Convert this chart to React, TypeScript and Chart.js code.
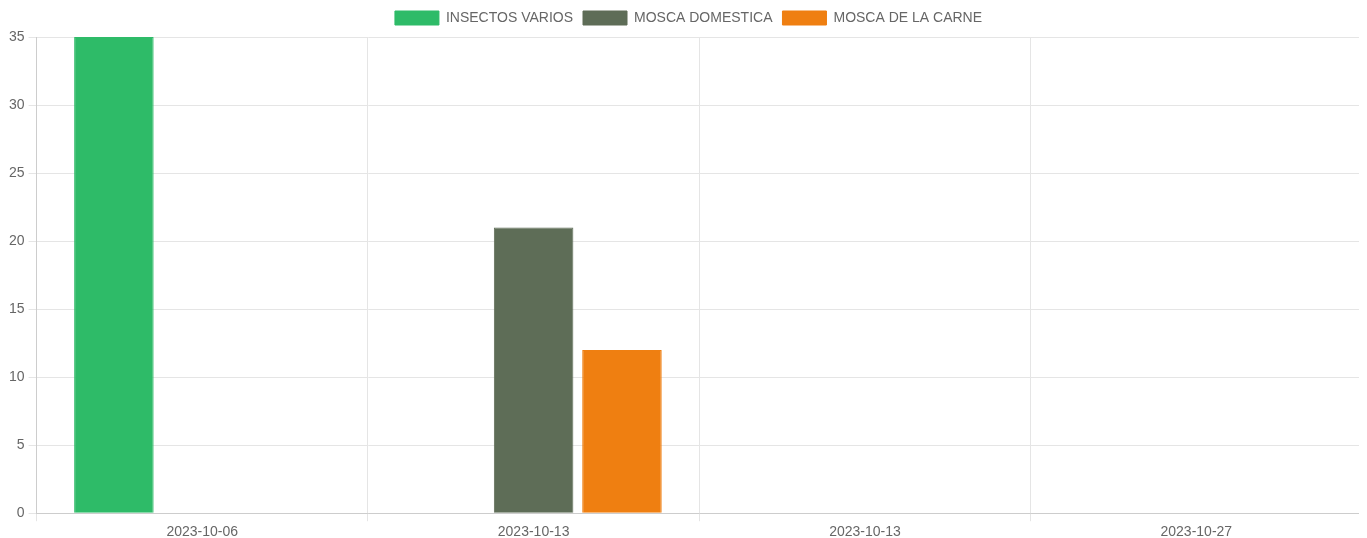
import React, { useEffect, useRef } from "react";
import { Chart, registerables } from "chart.js";

Chart.register(...registerables);

const categories = ["2023-10-06", "2023-10-13", "2023-10-13", "2023-10-27"];
const insectosVarios = [35, 0, 0, 0];
const moscaDomestica = [0, 21, 0, 0];
const moscaCarne = [0, 12, 0, 0];

const legendShift = {
  id: "legendShift",
  afterLayout(chart: any) {
    if (chart.legend) {
      chart.legend.left += 5;
      chart.legend.right += 5;
      chart.legend.top -= 2;
      chart.legend.bottom -= 2;
    }
  },
};

export default function App() {
  const ref = useRef<HTMLCanvasElement | null>(null);
  useEffect(() => {
    if (!ref.current) return;
    Chart.defaults.font.family = "'Liberation Sans', Arial, Helvetica, sans-serif";
    Chart.defaults.font.size = 14;
    Chart.defaults.color = "#666";
    const chart = new Chart(ref.current, {
      type: "bar",
      data: {
        labels: categories,
        datasets: [
          { label: "INSECTOS VARIOS", data: insectosVarios, backgroundColor: "#2ebb68", borderColor: "#2ebb68", borderWidth: 1 },
          { label: "MOSCA DOMESTICA", data: moscaDomestica, backgroundColor: "#5e6d57", borderColor: "#5e6d57", borderWidth: 1 },
          { label: "MOSCA DE LA CARNE", data: moscaCarne, backgroundColor: "#ef7f11", borderColor: "#ef7f11", borderWidth: 1 },
        ],
      },
      options: {
        animation: false,
        responsive: false,
        maintainAspectRatio: false,
        layout: { padding: { right: 5 } },
        plugins: {
          legend: { position: "top", labels: { boxWidth: 44, boxHeight: 14, padding: 10 } },
          tooltip: { enabled: false },
        },
        scales: {
          x: { grid: { color: "#e5e5e5" } },
          y: {
            beginAtZero: true,
            ticks: { stepSize: 5, padding: 4 },
            grid: { color: "#e5e5e5" },
          },
        },
      },
      plugins: [legendShift],
    });
    return () => chart.destroy();
  }, []);
  return (
    <div style={{ marginTop: -5, marginLeft: -3, lineHeight: 0 }}>
      <canvas ref={ref} width={1362} height={541} style={{ display: "block", width: 1362, height: 541 }} />
    </div>
  );
}
